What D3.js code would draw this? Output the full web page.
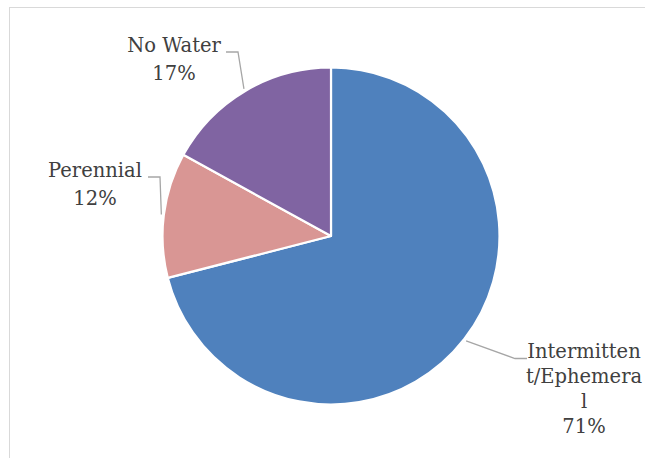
<!DOCTYPE html>
<html><head><meta charset="utf-8">
<script src="https://cdn.jsdelivr.net/npm/d3@7"></script>
<style>html,body{margin:0;padding:0;background:#fff;overflow:hidden}</style>
</head><body>
<script>
const categories = ["Intermitten t/Ephemera l", "Perennial", "No Water"];
const values = [71, 12, 17];
const labelLines = [["Intermitten", "t/Ephemera", "l", "71%"], ["Perennial", "12%"], ["No Water", "17%"]];
const colors = ["#4F81BD", "#D99694", "#8064A2"];

const W = 645, H = 458;
const svg = d3.select("body").append("svg").attr("width", W).attr("height", H);
svg.append("rect").attr("x", 9.5).attr("y", 7.5).attr("width", W).attr("height", H)
  .attr("fill", "#fff").attr("stroke", "#d9d9d9").attr("stroke-width", 1);

const cx = 331, cy = 236, R = 168.5;
const g = svg.append("g").attr("transform", `translate(${cx},${cy})`);
const pie = d3.pie().sort(null).value(d => d)(values);
const arc = d3.arc().innerRadius(0).outerRadius(R);
const edge = d3.arc().innerRadius(171).outerRadius(171);

g.selectAll("path.slice").data(pie).join("path")
  .attr("d", arc).attr("fill", (d, i) => colors[i])
  .attr("stroke", "#fff").attr("stroke-width", 2.2).attr("stroke-linejoin", "round");

// label layout: text center x, first baseline y, line height, leader corner & end
const layout = [
  {x: 584, y: 358, lh: 25, corner: [515, 358.5], end: [527, 358.5]},
  {x: 95, y: 177, lh: 28, corner: [160, 177], end: [148, 177]},
  {x: 174, y: 52, lh: 28, corner: [238, 52], end: [226, 52]}
];

pie.forEach((d, i) => {
  const p = edge.centroid(d);
  const L = layout[i];
  svg.append("polyline")
    .attr("points", [[p[0] + cx, p[1] + cy], L.corner, L.end].map(q => q.join(",")).join(" "))
    .attr("fill", "none").attr("stroke", "#a6a6a6").attr("stroke-width", 1.3);
  const t = svg.append("text").attr("text-anchor", "middle")
    .attr("font-family", "'DejaVu Serif', serif").attr("font-size", 19.5)
    .attr("fill", "#404040");
  labelLines[i].forEach((s, k) => {
    t.append("tspan").attr("x", L.x).attr("y", L.y + k * L.lh).text(s);
  });
});
</script>
</body></html>
